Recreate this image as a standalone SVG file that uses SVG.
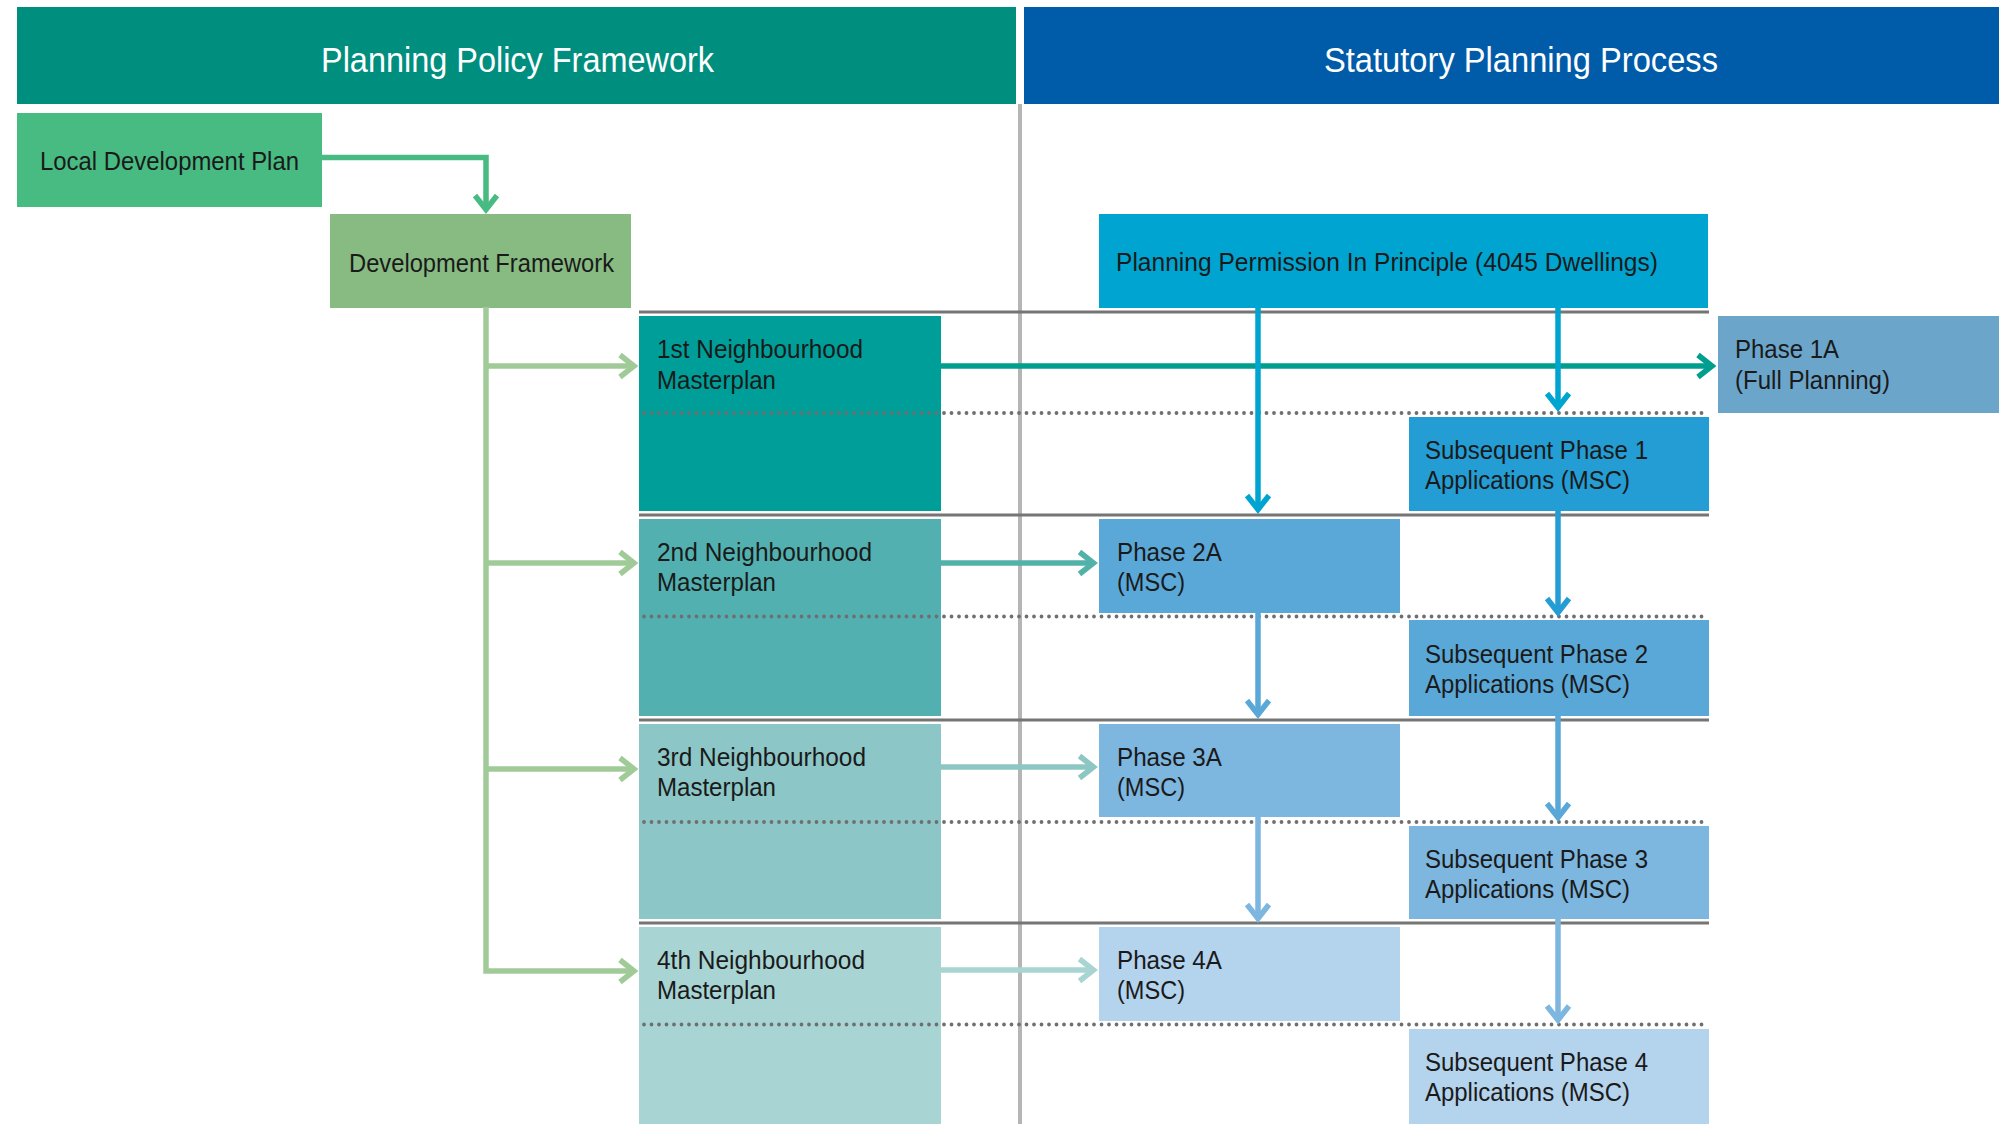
<svg xmlns="http://www.w3.org/2000/svg" width="1999" height="1124" viewBox="0 0 1999 1124">
  <style>
    .hdr { font-family: "Liberation Sans", Arial, sans-serif; font-size: 35px; fill: #ffffff; }
    .lbl { font-family: "Liberation Sans", Arial, sans-serif; font-size: 25.5px; fill: #1a1a1a; }
    .solid { stroke: #757575; stroke-width: 3; fill: none; }
    .dots { stroke: #6f6f6f; stroke-width: 3.8; stroke-linecap: round; stroke-dasharray: 0 7.5; fill: none; }
    .conn { fill: none; stroke-width: 5.5; }
  </style>
  <defs>
    <!-- open chevron heads, one per connector colour -->
    <marker id="ah-ldp" markerUnits="userSpaceOnUse" markerWidth="30" markerHeight="30" refX="16" refY="14" orient="auto" overflow="visible"><path d="M2,3 L16,14 L2,25" fill="none" stroke="#48BB82" stroke-width="5.5"/></marker>
    <marker id="ah-df" markerUnits="userSpaceOnUse" markerWidth="30" markerHeight="30" refX="16" refY="14" orient="auto" overflow="visible"><path d="M2,3 L16,14 L2,25" fill="none" stroke="#A0CB98" stroke-width="5.5"/></marker>
    <marker id="ah-t1" markerUnits="userSpaceOnUse" markerWidth="30" markerHeight="30" refX="16" refY="14" orient="auto" overflow="visible"><path d="M2,3 L16,14 L2,25" fill="none" stroke="#009E8F" stroke-width="5.5"/></marker>
    <marker id="ah-t2" markerUnits="userSpaceOnUse" markerWidth="30" markerHeight="30" refX="16" refY="14" orient="auto" overflow="visible"><path d="M2,3 L16,14 L2,25" fill="none" stroke="#52B1A9" stroke-width="5.5"/></marker>
    <marker id="ah-t3" markerUnits="userSpaceOnUse" markerWidth="30" markerHeight="30" refX="16" refY="14" orient="auto" overflow="visible"><path d="M2,3 L16,14 L2,25" fill="none" stroke="#8DC7C3" stroke-width="5.5"/></marker>
    <marker id="ah-t4" markerUnits="userSpaceOnUse" markerWidth="30" markerHeight="30" refX="16" refY="14" orient="auto" overflow="visible"><path d="M2,3 L16,14 L2,25" fill="none" stroke="#A8D5D2" stroke-width="5.5"/></marker>
    <marker id="ah-b0" markerUnits="userSpaceOnUse" markerWidth="30" markerHeight="30" refX="16" refY="14" orient="auto" overflow="visible"><path d="M2,3 L16,14 L2,25" fill="none" stroke="#00A4D1" stroke-width="5.5"/></marker>
    <marker id="ah-b1" markerUnits="userSpaceOnUse" markerWidth="30" markerHeight="30" refX="16" refY="14" orient="auto" overflow="visible"><path d="M2,3 L16,14 L2,25" fill="none" stroke="#239DD4" stroke-width="5.5"/></marker>
    <marker id="ah-b2" markerUnits="userSpaceOnUse" markerWidth="30" markerHeight="30" refX="16" refY="14" orient="auto" overflow="visible"><path d="M2,3 L16,14 L2,25" fill="none" stroke="#5AA8D8" stroke-width="5.5"/></marker>
    <marker id="ah-b3" markerUnits="userSpaceOnUse" markerWidth="30" markerHeight="30" refX="16" refY="14" orient="auto" overflow="visible"><path d="M2,3 L16,14 L2,25" fill="none" stroke="#7DB6DF" stroke-width="5.5"/></marker>
  </defs>

  <rect width="1999" height="1124" fill="#ffffff"/>

  <!-- column headers -->
  <g id="header-policy">
    <rect x="17" y="7" width="999" height="97" fill="#008E7F"/>
    <text class="hdr" x="321" y="71.5" textLength="393" lengthAdjust="spacingAndGlyphs">Planning Policy Framework</text>
  </g>
  <g id="header-statutory">
    <rect x="1024" y="7" width="975" height="97" fill="#005BA9"/>
    <text class="hdr" x="1324" y="71.5" textLength="394" lengthAdjust="spacingAndGlyphs">Statutory Planning Process</text>
  </g>

  <!-- policy column -->
  <g id="local-development-plan">
    <rect x="17" y="113" width="305" height="94" fill="#48BB82"/>
    <text class="lbl" x="40" y="170" textLength="259" lengthAdjust="spacingAndGlyphs">Local Development Plan</text>
  </g>
  <g id="development-framework">
    <rect x="330" y="214" width="301" height="94" fill="#87BB82"/>
    <text class="lbl" x="349" y="271.5" textLength="265" lengthAdjust="spacingAndGlyphs">Development Framework</text>
  </g>
  <g id="neighbourhood-1">
    <rect x="639" y="316" width="302" height="195" fill="#009E99"/>
    <text class="lbl" x="657" y="357.5" textLength="206" lengthAdjust="spacingAndGlyphs">1st Neighbourhood</text>
    <text class="lbl" x="657" y="388.5" textLength="119" lengthAdjust="spacingAndGlyphs">Masterplan</text>
  </g>
  <g id="neighbourhood-2">
    <rect x="639" y="519" width="302" height="197" fill="#52B1B0"/>
    <text class="lbl" x="657" y="560.5" textLength="215" lengthAdjust="spacingAndGlyphs">2nd Neighbourhood</text>
    <text class="lbl" x="657" y="591" textLength="119" lengthAdjust="spacingAndGlyphs">Masterplan</text>
  </g>
  <g id="neighbourhood-3">
    <rect x="639" y="724" width="302" height="195" fill="#8CC6C7"/>
    <text class="lbl" x="657" y="765.5" textLength="209" lengthAdjust="spacingAndGlyphs">3rd Neighbourhood</text>
    <text class="lbl" x="657" y="796" textLength="119" lengthAdjust="spacingAndGlyphs">Masterplan</text>
  </g>
  <g id="neighbourhood-4">
    <rect x="639" y="927" width="302" height="197" fill="#A8D4D4"/>
    <text class="lbl" x="657" y="968.5" textLength="208" lengthAdjust="spacingAndGlyphs">4th Neighbourhood</text>
    <text class="lbl" x="657" y="999" textLength="119" lengthAdjust="spacingAndGlyphs">Masterplan</text>
  </g>

  <!-- statutory column -->
  <g id="ppip">
    <rect x="1099" y="214" width="609" height="94" fill="#00A4D1"/>
    <text class="lbl" x="1116" y="270.5" textLength="542" lengthAdjust="spacingAndGlyphs">Planning Permission In Principle (4045 Dwellings)</text>
  </g>
  <g id="phase-1a">
    <rect x="1718" y="316" width="281" height="97" fill="#6CA5CA"/>
    <text class="lbl" x="1735" y="357.5" textLength="104" lengthAdjust="spacingAndGlyphs">Phase 1A</text>
    <text class="lbl" x="1735" y="388.5" textLength="155" lengthAdjust="spacingAndGlyphs">(Full Planning)</text>
  </g>
  <g id="subsequent-1">
    <rect x="1409" y="417" width="300" height="94" fill="#239DD4"/>
    <text class="lbl" x="1425" y="458.5" textLength="223" lengthAdjust="spacingAndGlyphs">Subsequent Phase 1</text>
    <text class="lbl" x="1425" y="489" textLength="205" lengthAdjust="spacingAndGlyphs">Applications (MSC)</text>
  </g>
  <g id="phase-2a">
    <rect x="1099" y="519" width="301" height="94" fill="#5AA8D8"/>
    <text class="lbl" x="1117" y="560.5" textLength="105" lengthAdjust="spacingAndGlyphs">Phase 2A</text>
    <text class="lbl" x="1117" y="591" textLength="68" lengthAdjust="spacingAndGlyphs">(MSC)</text>
  </g>
  <g id="subsequent-2">
    <rect x="1409" y="620" width="300" height="96" fill="#5AA8D8"/>
    <text class="lbl" x="1425" y="662.5" textLength="223" lengthAdjust="spacingAndGlyphs">Subsequent Phase 2</text>
    <text class="lbl" x="1425" y="693" textLength="205" lengthAdjust="spacingAndGlyphs">Applications (MSC)</text>
  </g>
  <g id="phase-3a">
    <rect x="1099" y="724" width="301" height="93" fill="#7DB6DF"/>
    <text class="lbl" x="1117" y="765.5" textLength="105" lengthAdjust="spacingAndGlyphs">Phase 3A</text>
    <text class="lbl" x="1117" y="796" textLength="68" lengthAdjust="spacingAndGlyphs">(MSC)</text>
  </g>
  <g id="subsequent-3">
    <rect x="1409" y="826" width="300" height="93" fill="#7DB6DF"/>
    <text class="lbl" x="1425" y="867.5" textLength="223" lengthAdjust="spacingAndGlyphs">Subsequent Phase 3</text>
    <text class="lbl" x="1425" y="898" textLength="205" lengthAdjust="spacingAndGlyphs">Applications (MSC)</text>
  </g>
  <g id="phase-4a">
    <rect x="1099" y="927" width="301" height="94" fill="#B4D3EC"/>
    <text class="lbl" x="1117" y="968.5" textLength="105" lengthAdjust="spacingAndGlyphs">Phase 4A</text>
    <text class="lbl" x="1117" y="999" textLength="68" lengthAdjust="spacingAndGlyphs">(MSC)</text>
  </g>
  <g id="subsequent-4">
    <rect x="1409" y="1029" width="300" height="95" fill="#B4D3EC"/>
    <text class="lbl" x="1425" y="1070.5" textLength="223" lengthAdjust="spacingAndGlyphs">Subsequent Phase 4</text>
    <text class="lbl" x="1425" y="1101" textLength="205" lengthAdjust="spacingAndGlyphs">Applications (MSC)</text>
  </g>

  <!-- column divider and row rules -->
  <g id="grid">
    <line x1="1020" y1="104" x2="1020" y2="1124" stroke="#B5B5B5" stroke-width="4"/>
    <line class="solid" x1="639" y1="312" x2="1709" y2="312"/>
    <line class="solid" x1="639" y1="515" x2="1709" y2="515"/>
    <line class="solid" x1="639" y1="720" x2="1709" y2="720"/>
    <line class="solid" x1="639" y1="923" x2="1709" y2="923"/>
    <line class="dots" x1="644" y1="413" x2="1708" y2="413"/>
    <line class="dots" x1="644" y1="616.5" x2="1708" y2="616.5"/>
    <line class="dots" x1="644" y1="822" x2="1708" y2="822"/>
    <line class="dots" x1="644" y1="1024.5" x2="1708" y2="1024.5"/>
  </g>

  <!-- connectors -->
  <g id="connectors">
    <path class="conn" stroke="#48BB82" stroke-width="6" d="M322,157.5 H486 V209.5" marker-end="url(#ah-ldp)"/>
    <path class="conn" stroke="#A0CB98" stroke-width="6" d="M486,307 V971 H634" marker-end="url(#ah-df)"/>
    <path class="conn" stroke="#A0CB98" stroke-width="6" d="M486,366 H634" marker-end="url(#ah-df)"/>
    <path class="conn" stroke="#A0CB98" stroke-width="6" d="M486,563 H634" marker-end="url(#ah-df)"/>
    <path class="conn" stroke="#A0CB98" stroke-width="6" d="M486,769 H634" marker-end="url(#ah-df)"/>

    <path class="conn" stroke="#009E8F" d="M941,366 H1712" marker-end="url(#ah-t1)"/>
    <path class="conn" stroke="#52B1A9" d="M941,563 H1093.5" marker-end="url(#ah-t2)"/>
    <path class="conn" stroke="#8DC7C3" d="M941,767 H1093.5" marker-end="url(#ah-t3)"/>
    <path class="conn" stroke="#A8D5D2" d="M941,970 H1093.5" marker-end="url(#ah-t4)"/>

    <path class="conn" stroke="#00A4D1" d="M1258,307 V509.5" marker-end="url(#ah-b0)"/>
    <path class="conn" stroke="#00A4D1" d="M1558,307 V407.5" marker-end="url(#ah-b0)"/>
    <path class="conn" stroke="#239DD4" d="M1558,511 V612.5" marker-end="url(#ah-b1)"/>
    <path class="conn" stroke="#5AA8D8" d="M1258,613 V714.5" marker-end="url(#ah-b2)"/>
    <path class="conn" stroke="#5AA8D8" d="M1558,716 V817.5" marker-end="url(#ah-b2)"/>
    <path class="conn" stroke="#7DB6DF" d="M1258,817 V918.5" marker-end="url(#ah-b3)"/>
    <path class="conn" stroke="#7DB6DF" d="M1558,919 V1020" marker-end="url(#ah-b3)"/>
  </g>
</svg>
